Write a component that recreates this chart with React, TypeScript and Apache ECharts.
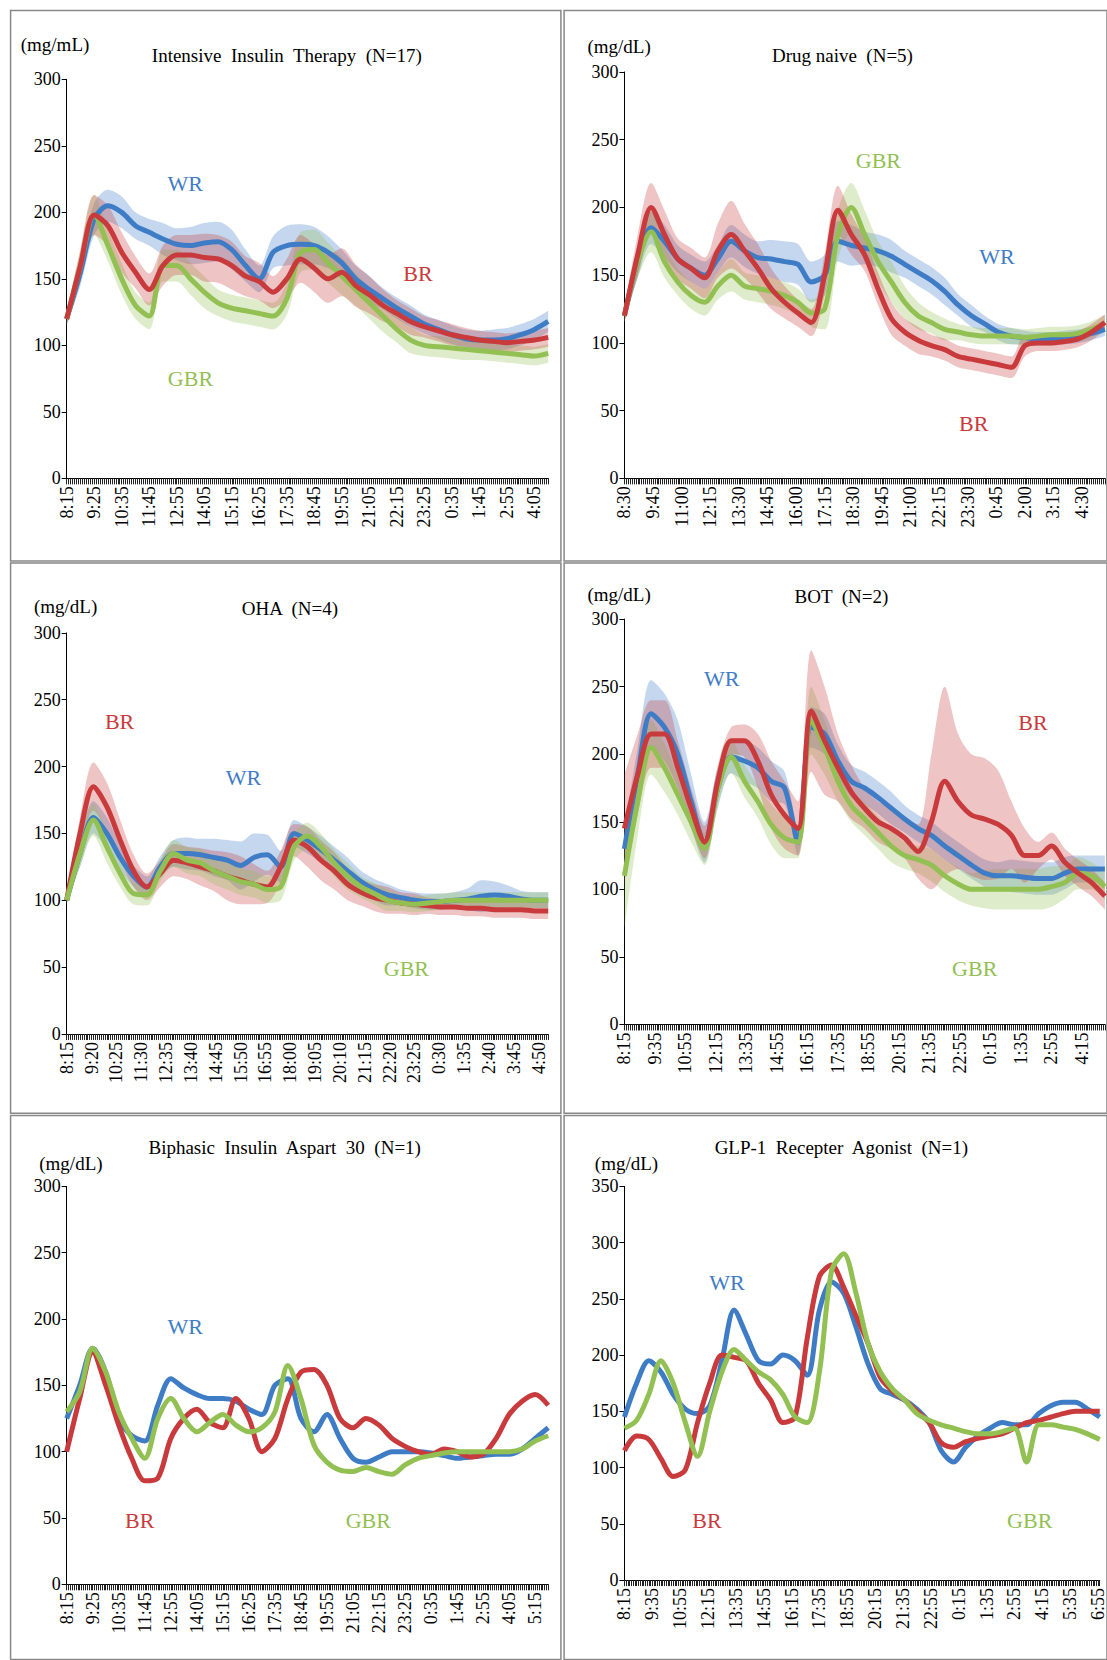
import React, { useEffect, useRef } from 'react';
import * as echarts from 'echarts';

const S = 1107 / 1046;
const STEP = 7; // one sample every 35 min (7 x 5-min categories)
const BLUE = '#3f7cc6';
const RED = '#c83a3c';
const GREEN = '#93c052';

// Panel 1: Intensive Insulin Therapy
const p1WR = [120,155,195,205,200,190,185,180,176,175,177,178,172,160,150,170,175,176,175,170,162,150,142,135,128,122,116,112,108,105,104,104,105,108,112,118];
const p1WRe = [5,10,12,12,12,10,10,12,12,14,15,15,15,12,10,12,15,15,14,12,10,10,10,8,8,8,7,7,7,7,7,8,8,8,8,8];
const p1BR = [120,160,198,190,170,155,142,160,168,168,166,165,160,152,148,140,150,165,158,150,155,145,138,130,124,118,114,111,108,106,104,103,102,103,104,106];
const p1BRe = [5,12,15,15,15,12,12,15,15,15,18,18,18,15,14,12,15,18,18,18,18,16,14,12,10,10,8,8,8,7,7,7,7,7,7,7];
const p1GBR = [120,160,198,175,150,130,122,160,160,150,140,132,128,126,124,122,135,170,172,162,152,142,132,122,112,104,100,99,98,97,96,95,94,93,92,94];
const p1GBRe = [5,12,15,12,12,10,10,12,12,12,12,10,10,10,10,10,12,15,15,15,14,12,12,12,10,10,8,8,8,8,7,7,7,7,7,7];

// Panel 2: Drug naive
const p2WR = [120,160,185,175,162,155,150,162,175,168,163,162,160,158,145,150,175,172,170,168,164,158,152,146,138,128,120,114,108,105,104,103,103,104,105,107,110];
const p2WRe = [5,12,12,12,10,10,10,10,12,12,12,14,15,15,15,15,15,15,12,12,12,10,10,10,10,8,8,6,6,6,5,5,5,5,5,5,5];
const p2BR = [120,165,200,180,162,155,148,168,180,168,155,140,130,122,115,150,198,180,165,140,118,108,102,98,95,90,88,86,84,82,98,100,100,101,103,108,115];
const p2BRe = [5,15,18,18,15,15,15,20,25,20,18,15,12,10,10,15,18,15,12,12,12,10,10,8,8,8,8,8,8,8,8,6,6,6,6,6,6];
const p2GBR = [120,160,182,160,145,135,130,142,150,142,140,138,135,130,122,125,180,200,180,160,145,130,120,115,110,108,106,105,105,105,104,105,106,106,107,110,115];
const p2GBRe = [5,12,15,12,10,10,10,10,12,10,10,10,10,10,10,15,18,18,18,15,15,12,10,8,8,6,6,6,6,6,6,6,6,6,6,6,6];

// Panel 3: OHA
const p3WR = [100,135,162,150,132,118,110,125,135,135,134,132,130,126,132,134,125,150,145,138,130,122,114,108,104,102,100,99,99,100,101,103,104,103,101,100,100];
const p3WRe = [3,10,12,12,10,8,8,8,10,12,12,14,15,18,18,15,12,10,10,10,10,10,8,8,8,6,6,6,6,6,8,12,10,8,6,6,6];
const p3BR = [100,150,185,170,145,122,110,120,130,128,125,122,118,115,112,110,125,145,140,130,122,112,106,102,100,98,97,96,95,95,94,94,93,93,93,92,92];
const p3BRe = [3,12,18,18,15,12,10,10,12,12,14,15,18,18,15,12,12,12,15,15,14,12,10,10,10,8,8,6,6,6,6,6,6,6,6,6,6];
const p3GBR = [100,135,160,140,120,105,104,122,135,130,128,122,118,114,112,108,110,140,148,140,128,118,110,105,100,98,97,98,99,100,100,100,100,100,100,100,100];
const p3GBRe = [3,10,12,12,10,8,8,8,10,10,10,10,10,10,10,10,10,10,10,10,10,10,8,8,8,6,6,6,6,6,6,6,6,6,6,6,6];

// Panel 4: BOT
const p4WR = [130,185,230,220,200,165,135,175,198,195,190,180,175,135,220,215,195,180,175,168,160,152,145,140,132,125,118,112,110,110,109,108,108,112,115,115,115];
const p4WRe = [15,20,25,25,25,20,15,15,12,15,15,15,12,10,15,15,12,12,12,12,12,10,10,10,10,10,10,10,10,12,12,12,12,12,10,10,10];
const p4BR = [145,185,215,215,190,160,135,180,210,210,195,170,155,145,232,210,190,172,160,150,145,138,128,150,180,165,155,152,148,140,125,125,132,120,112,105,95];
const p4BRe = [40,30,25,25,20,15,12,12,10,12,20,25,25,20,45,40,25,20,15,15,15,15,20,50,70,50,45,45,40,25,20,10,10,10,10,10,10];
const p4GBR = [110,165,205,190,170,150,130,175,198,180,165,148,138,135,225,205,180,162,152,142,132,125,122,118,110,104,100,100,100,100,100,100,102,105,112,110,102];
const p4GBRe = [40,25,20,18,15,15,12,12,12,12,12,15,15,12,25,20,15,12,12,12,12,10,10,12,12,12,12,14,15,15,15,15,15,12,12,10,10];

// Panel 5: Biphasic Insulin Aspart 30
const p5WR = [125,150,178,160,125,112,108,135,155,148,143,140,140,138,132,128,150,155,125,115,128,110,95,92,96,100,100,100,99,97,95,96,97,98,98,102,110,118];
const p5BR = [100,140,175,150,120,95,78,80,110,125,132,122,118,140,125,100,110,140,160,162,150,125,118,125,120,110,104,100,98,102,100,96,98,110,128,138,143,135];
const p5GBR = [130,145,178,160,130,110,95,125,140,125,115,122,128,120,115,118,130,165,140,105,92,86,85,88,85,83,90,95,97,99,100,100,100,100,100,102,108,112];

// Panel 6: GLP-1 Recepter Agonist
const p6WR = [145,175,195,185,165,152,148,155,195,240,218,195,192,200,195,182,240,265,255,225,192,170,165,160,152,140,115,105,118,128,135,140,138,138,148,155,158,158,152,145];
const p6BR = [115,128,125,108,92,98,140,175,200,198,195,175,160,140,145,215,270,280,260,235,210,180,168,160,150,140,122,118,123,126,128,130,135,140,142,145,148,150,150,150];
const p6GBR = [135,142,165,195,175,140,110,150,185,205,195,185,178,165,145,140,185,275,290,255,210,185,170,160,148,142,138,135,132,130,130,132,135,105,138,138,136,134,130,125];

// start time (minutes from midnight) and label step (minutes)
const p1Time = [8 * 60 + 15, 70];
const p2Time = [8 * 60 + 30, 75];
const p3Time = [8 * 60 + 15, 65];
const p4Time = [8 * 60 + 15, 80];
const p5Time = [8 * 60 + 15, 70];
const p6Time = [8 * 60 + 15, 80];

type Panel = {
  title: string; unit: string; titlePos: number[]; unitPos: number[];
  box: number[]; grid: number[]; time: number[]; yMax: number;
  lines: { name: string; color: string; v: number[]; e?: number[]; lab: number[] }[];
};

const panels: Panel[] = [
  { title: 'Intensive  Insulin  Therapy  (N=17)', unit: '(mg/mL)', titlePos: [271, 52], unitPos: [52, 42],
    box: [10, 10, 530, 530], grid: [63, 75, 518, 452], time: p1Time, yMax: 300,
    lines: [
      { name: 'WR', color: BLUE, v: p1WR, e: p1WRe, lab: [175, 173] },
      { name: 'GBR', color: GREEN, v: p1GBR, e: p1GBRe, lab: [180, 358] },
      { name: 'BR', color: RED, v: p1BR, e: p1BRe, lab: [395, 258] },
    ] },
  { title: 'Drug naive  (N=5)', unit: '(mg/dL)', titlePos: [796, 52], unitPos: [585, 44],
    box: [533, 10, 1046, 530], grid: [590, 68, 1044, 452], time: p2Time, yMax: 300,
    lines: [
      { name: 'WR', color: BLUE, v: p2WR, e: p2WRe, lab: [942, 242] },
      { name: 'GBR', color: GREEN, v: p2GBR, e: p2GBRe, lab: [830, 152] },
      { name: 'BR', color: RED, v: p2BR, e: p2BRe, lab: [920, 400] },
    ] },
  { title: 'OHA  (N=4)', unit: '(mg/dL)', titlePos: [274, 575], unitPos: [62, 573],
    box: [10, 532, 530, 1052], grid: [63, 598, 518, 977], time: p3Time, yMax: 300,
    lines: [
      { name: 'WR', color: BLUE, v: p3WR, e: p3WRe, lab: [230, 735] },
      { name: 'BR', color: RED, v: p3BR, e: p3BRe, lab: [113, 682] },
      { name: 'GBR', color: GREEN, v: p3GBR, e: p3GBRe, lab: [384, 915] },
    ] },
  { title: 'BOT  (N=2)', unit: '(mg/dL)', titlePos: [795, 564], unitPos: [585, 562],
    box: [533, 532, 1046, 1052], grid: [590, 585, 1044, 968], time: p4Time, yMax: 300,
    lines: [
      { name: 'WR', color: BLUE, v: p4WR, e: p4WRe, lab: [682, 641] },
      { name: 'GBR', color: GREEN, v: p4GBR, e: p4GBRe, lab: [921, 915] },
      { name: 'BR', color: RED, v: p4BR, e: p4BRe, lab: [976, 683] },
    ] },
  { title: 'Biphasic  Insulin  Aspart  30  (N=1)', unit: '(mg/dL)', titlePos: [269, 1084], unitPos: [67, 1099],
    box: [10, 1054, 530, 1568], grid: [63, 1121, 518, 1497], time: p5Time, yMax: 300,
    lines: [
      { name: 'WR', color: BLUE, v: p5WR, lab: [175, 1253] },
      { name: 'BR', color: RED, v: p5BR, lab: [132, 1437] },
      { name: 'GBR', color: GREEN, v: p5GBR, lab: [348, 1437] },
    ] },
  { title: 'GLP-1  Recepter  Agonist  (N=1)', unit: '(mg/dL)', titlePos: [795, 1084], unitPos: [592, 1099],
    box: [533, 1054, 1046, 1568], grid: [590, 1121, 1044, 1493], time: p6Time, yMax: 350,
    lines: [
      { name: 'WR', color: BLUE, v: p6WR, lab: [687, 1212] },
      { name: 'BR', color: RED, v: p6BR, lab: [668, 1437] },
      { name: 'GBR', color: GREEN, v: p6GBR, lab: [973, 1437] },
    ] },
];

const FONT = '"Liberation Serif", "Times New Roman", serif';

function cats(start: number, n: number) {
  const out: string[] = [];
  for (let i = 0; i < n; i++) {
    const m = (start + i * 5) % 1440;
    out.push(`${Math.floor(m / 60)}:${String(m % 60).padStart(2, '0')}`);
  }
  return out;
}

function buildOption() {
  const grid: any[] = [], xAxis: any[] = [], yAxis: any[] = [], series: any[] = [], graphic: any[] = [];
  panels.forEach((p, k) => {
    const n = (p.lines[0].v.length - 1) * STEP + 1;
    const [l, t, r, b] = p.grid.map((v) => v * S);
    grid.push({ left: l, top: t, width: r - l, height: b - t });
    xAxis.push({
      type: 'category', gridIndex: k, boundaryGap: false, data: cats(p.time[0], n),
      axisLine: { lineStyle: { color: '#000', width: 1 } },
      axisTick: { interval: 0, length: 6, lineStyle: { color: '#222' } },
      axisLabel: { interval: p.time[1] / 5 - 1, rotate: 90, color: '#000', fontFamily: FONT, fontSize: 18, margin: 8 },
    });
    yAxis.push({
      type: 'value', gridIndex: k, min: 0, max: p.yMax, interval: 50,
      axisLine: { show: true, lineStyle: { color: '#000' } },
      axisTick: { show: true, length: 5, lineStyle: { color: '#000' } },
      splitLine: { show: false },
      axisLabel: { color: '#000', fontFamily: FONT, fontSize: 18, margin: 6 },
    });
    p.lines.forEach((ln, j) => {
      if (ln.e) {
        const key = `band${k}_${j}`;
        series.push({
          type: 'line', xAxisIndex: k, yAxisIndex: k, stack: key, symbol: 'none', smooth: 0.3, z: 1,
          lineStyle: { opacity: 0 }, data: ln.v.map((v, i) => [i * STEP, v - ln.e![i]]),
        });
        series.push({
          type: 'line', xAxisIndex: k, yAxisIndex: k, stack: key, symbol: 'none', smooth: 0.3, z: 1,
          lineStyle: { opacity: 0 }, areaStyle: { color: ln.color, opacity: 0.3 },
          data: ln.e.map((e, i) => [i * STEP, 2 * e]),
        });
      }
    });
    p.lines.forEach((ln) => {
      series.push({
        name: ln.name, type: 'line', xAxisIndex: k, yAxisIndex: k, symbol: 'none', smooth: 0.3, z: 3,
        lineStyle: { color: ln.color, width: 5 }, data: ln.v.map((v, i) => [i * STEP, v]),
      });
      graphic.push({
        type: 'text', x: ln.lab[0] * S, y: ln.lab[1] * S,
        style: { text: ln.name, fill: ln.color, font: `22px ${FONT}`, align: 'center', verticalAlign: 'middle' },
      });
    });
    const [bx0, by0, bx1, by1] = p.box.map((v) => v * S);
    graphic.push({ type: 'rect', shape: { x: bx0, y: by0, width: bx1 - bx0, height: by1 - by0 },
      style: { fill: 'none', stroke: '#888', lineWidth: 1.5 } });
    graphic.push({ type: 'text', x: p.titlePos[0] * S, y: p.titlePos[1] * S,
      style: { text: p.title, fill: '#000', font: `19px ${FONT}`, align: 'center', verticalAlign: 'middle' } });
    graphic.push({ type: 'text', x: p.unitPos[0] * S, y: p.unitPos[1] * S,
      style: { text: p.unit, fill: '#000', font: `19px ${FONT}`, align: 'center', verticalAlign: 'middle' } });
  });
  return { animation: false, backgroundColor: '#fff', grid, xAxis, yAxis, series, graphic };
}

const App: React.FC = () => {
  const chartRef = useRef<HTMLDivElement | null>(null);

  useEffect(() => {
    if (chartRef.current) {
      const chart = echarts.init(chartRef.current, undefined, { renderer: 'svg' });
      chart.setOption(buildOption());
      return () => {
        chart.dispose();
      };
    }
  }, []);

  return <div ref={chartRef} style={{ position: 'absolute', left: 0, top: 0, width: '1107px', height: '1660px' }} />;
};

export default App;
